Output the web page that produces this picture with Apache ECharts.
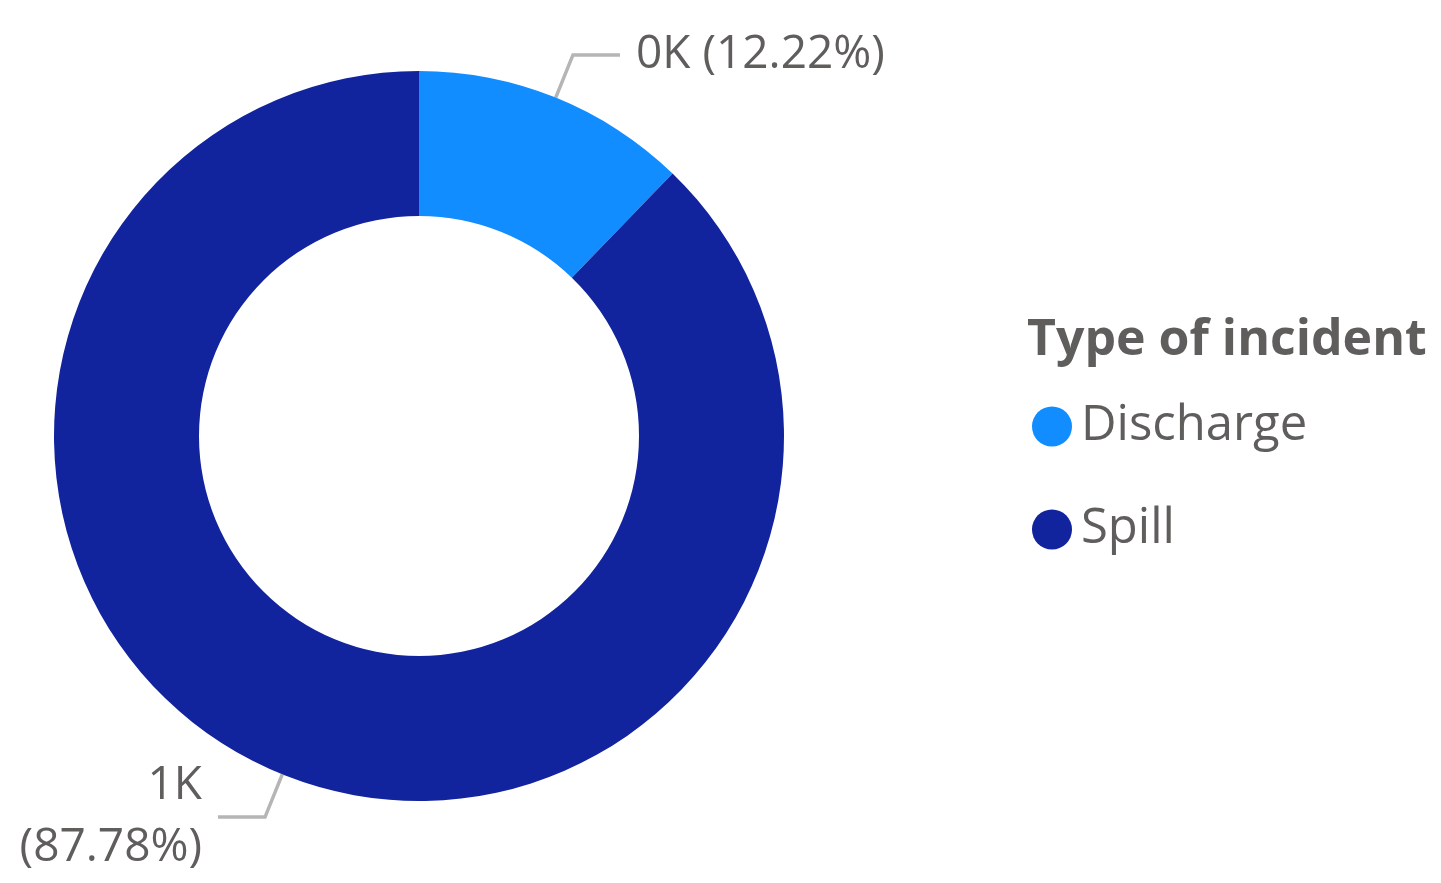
<!DOCTYPE html>
<html>
<head>
<meta charset="utf-8">
<script src="https://cdn.jsdelivr.net/npm/echarts@6/dist/echarts.min.js"></script>
<style>
  html, body { margin: 0; padding: 0; background: #fff; }
  #chart { width: 1441px; height: 883px; }
</style>
</head>
<body>
<div id="chart"></div>
<script>
const categories = ["Discharge", "Spill"];
const values = [132, 948];
const colors = ["#118DFF", "#12239E"];
const legendTitle = "Type of incident";

const total = values.reduce((a, b) => a + b, 0);
// cumulative midpoint share of each slice, used to decide which side the label sits on
let acc = 0;
const midShare = values.map((v) => {
  const m = (acc + v / 2) / total;
  acc += v;
  return m;
});

const textColor = "#605E5C";
const fontFamily = "'Open Sans', 'Noto Sans', sans-serif";

const chart = echarts.init(document.getElementById("chart"));
chart.setOption({
  animation: false,
  color: colors,
  title: {
    text: legendTitle,
    left: 1022,
    top: 311,
    textStyle: {
      color: textColor,
      fontFamily,
      fontSize: 50,
      fontWeight: "bold",
    },
  },
  legend: {
    orient: "vertical",
    left: 1027,
    top: 397,
    icon: "circle",
    itemWidth: 40,
    itemHeight: 40,
    itemGap: 54,
    textStyle: {
      color: textColor,
      fontFamily,
      fontSize: 49,
      padding: [0, 0, 0, 4],
    },
    data: categories,
  },
  series: [
    {
      type: "pie",
      center: [419, 436],
      radius: [220, 365],
      startAngle: 90,
      clockwise: true,
      avoidLabelOverlap: false,
      data: categories.map((name, i) => ({ name, value: values[i] })),
      label: {
        show: true,
        position: "outside",
        color: textColor,
        fontFamily,
        fontSize: 46,
        lineHeight: 62,
        distanceToLabelLine: 16,
        formatter: (p) => {
          const k = Math.round(p.value / 1000) + "K";
          const pct = "(" + p.percent.toFixed(2) + "%)";
          return midShare[p.dataIndex] > 0.5 ? k + "\n" + pct : k + " " + pct;
        },
      },
      labelLine: {
        show: true,
        length: 46,
        length2: 47,
        lineStyle: { color: "#B5B5B5", width: 3.5 },
      },
      emphasis: { disabled: true },
    },
  ],
});
</script>
</body>
</html>
